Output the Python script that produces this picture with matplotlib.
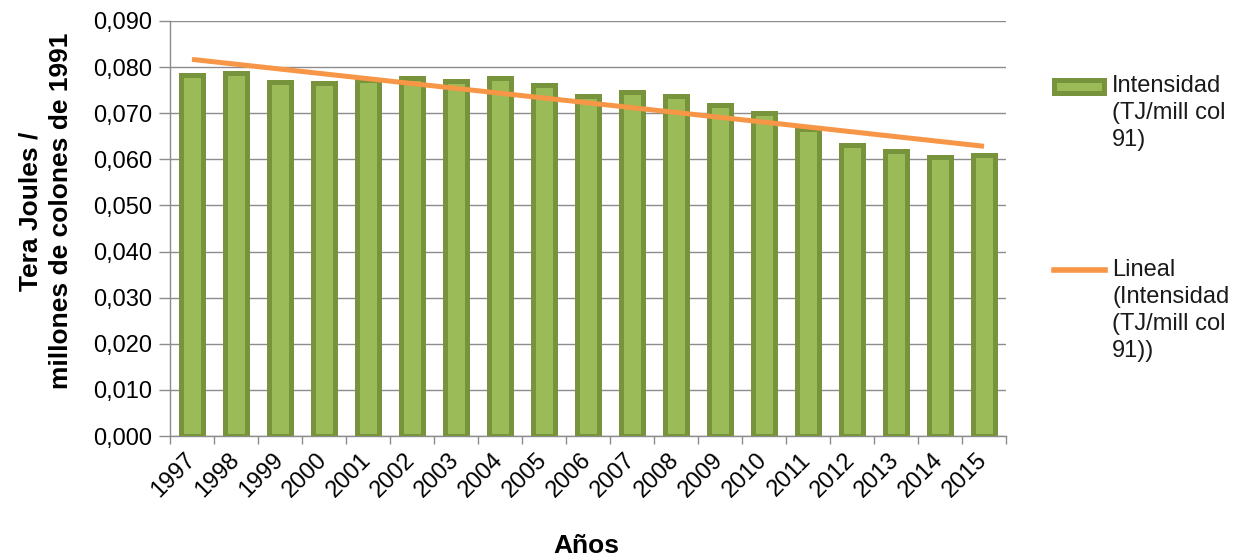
import numpy as np
import matplotlib
matplotlib.use("Agg")
from matplotlib import pyplot as plt
from matplotlib.ticker import FuncFormatter, MultipleLocator
from matplotlib.patches import Rectangle
from matplotlib.lines import Line2D

# datos
anios = ["1997", "1998", "1999", "2000", "2001", "2002", "2003", "2004", "2005", "2006",
         "2007", "2008", "2009", "2010", "2011", "2012", "2013", "2014", "2015"]
intensidad = [0.0783, 0.0787, 0.0768, 0.0765, 0.0773, 0.0776, 0.0770, 0.0776, 0.0762, 0.0737,
              0.0747, 0.0737, 0.0718, 0.0701, 0.0666, 0.0631, 0.0618, 0.0604, 0.0609]
etiqueta_barras = "Intensidad\n(TJ/mill col\n91)"
etiqueta_lineal = "Lineal\n(Intensidad\n(TJ/mill col\n91))"

plt.rcParams['font.family'] = ['Liberation Sans', 'DejaVu Sans']
verde = "#9BBB59"
borde = "#77933C"
naranja = "#F79646"
gris = "#8C8C8C"
fs = 17

fig = plt.figure(figsize=(12.33, 5.6), dpi=100)
W, H = 1233, 560
ax = fig.add_axes([170 / W, 1 - 436 / H, (1006 - 170) / W, (436 - 21) / H])

x = np.arange(len(anios))
ax.bar(x, intensidad, width=0.48, color=verde, edgecolor=borde, linewidth=3.6, zorder=3)

# tendencia lineal (como la de Excel)
m, b = np.polyfit(x, intensidad, 1)
ax.plot(x, m * x + b, color=naranja, linewidth=3.6, zorder=4, solid_capstyle="butt")

ax.set_xlim(-0.5, len(anios) - 0.5)
ax.set_ylim(0, 0.090)
ax.yaxis.set_major_locator(MultipleLocator(0.010))
ax.yaxis.set_major_formatter(FuncFormatter(lambda v, p: f"{v:.3f}".replace(".", ",")))
ax.grid(axis="y", color=gris, linewidth=1, zorder=0)
ax.set_axisbelow(True)

ax.set_xticks(x)
ax.set_xticklabels(anios, rotation=45, ha="right", va="center", rotation_mode="anchor")
ax.set_xticks(np.arange(-0.5, len(anios)), minor=True)
ax.tick_params(axis="x", which="major", length=0, pad=15, labelsize=fs)
ax.tick_params(axis="x", which="minor", length=6, color=gris, width=1)
ax.tick_params(axis="y", length=8, color=gris, width=1, pad=5, labelsize=fs)

for s in ["top", "right"]:
    ax.spines[s].set_visible(False)
for s in ["left", "bottom"]:
    ax.spines[s].set_color(gris)
    ax.spines[s].set_linewidth(1)

fig.text(30 / W, 1 - 211 / H, "Tera Joules /", rotation=90, ha="center", va="center",
         fontsize=19, fontweight="bold")
fig.text(61 / W, 1 - 211 / H, "millones de colones de 1991", rotation=90, ha="center",
         va="center", fontsize=19, fontweight="bold")
fig.text(586 / W, 1 - 546 / H, "Años", ha="center", va="center", fontsize=19, fontweight="bold")

# leyenda
fig.add_artist(Rectangle((1054 / W, 1 - 93 / H), 50 / W, 13 / H, transform=fig.transFigure,
                         facecolor=verde, edgecolor=borde, linewidth=3.6))
fig.add_artist(Line2D([1054 / W, 1105 / W], [1 - 270 / H, 1 - 270 / H], transform=fig.transFigure,
                      color=naranja, linewidth=4))
fig.text(1112 / W, 1 - 75 / H, etiqueta_barras, ha="left", va="top", fontsize=fs,
         linespacing=1.3, color="#1a1a1a")
fig.text(1112 / W, 1 - 259 / H, etiqueta_lineal, ha="left", va="top", fontsize=fs,
         linespacing=1.3, color="#1a1a1a")

fig.savefig("out.png", dpi=100)
